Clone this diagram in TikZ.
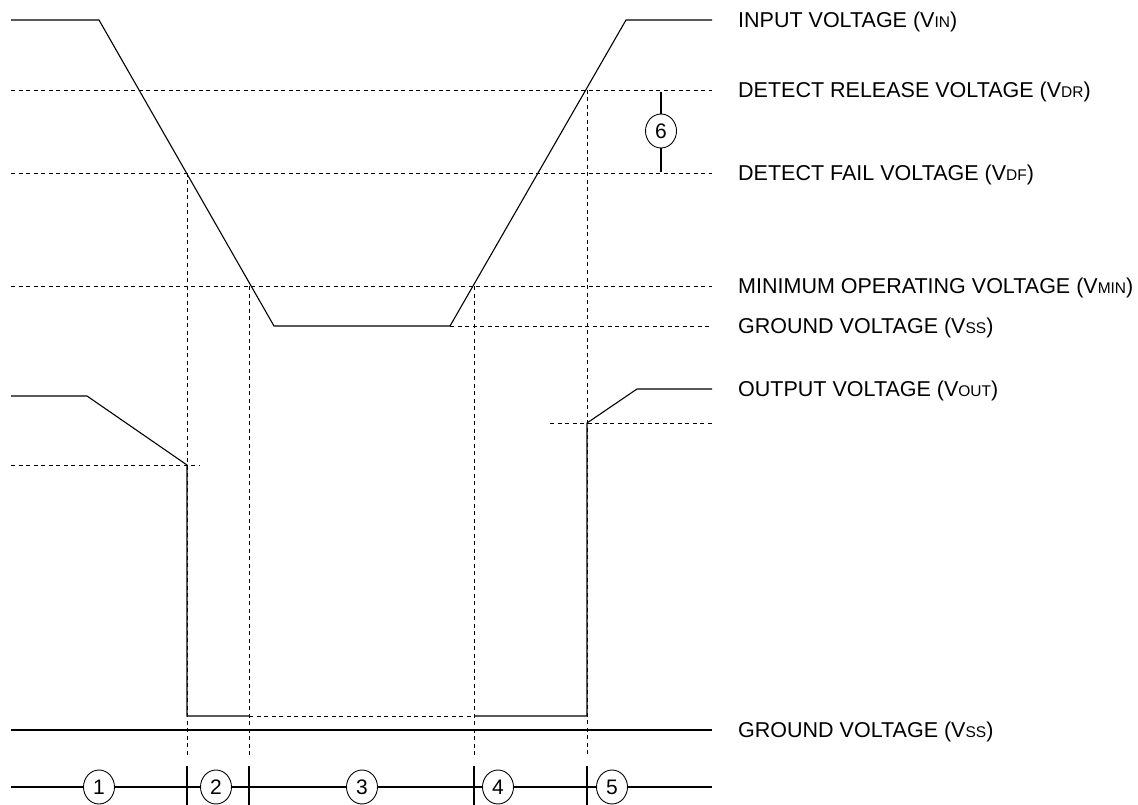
\documentclass[tikz,border=0pt]{standalone}
\usepackage{fontspec}
\setmainfont{Liberation Sans}
\usetikzlibrary{positioning}
\usetikzlibrary{shapes.geometric}
\newcommand{\vsub}[1]{{\fontsize{15.5pt}{15.5pt}\selectfont #1}}
\tikzset {
  % solid waveform
  wave/.style = {
    draw = black,
    line width = 1.1pt
  },
  % dashed guide lines
  guide/.style = {
    draw = black,
    line width = 0.9pt,
    dash pattern = on 4pt off 3.5pt
  },
  level label/.style = {
    inner sep = 0,
    yshift = -1.5pt,
    font = \fontsize{21.5pt}{21.5pt}\selectfont
  },
  % circled phase number
  phase/.style = {
    draw = black,
    ellipse,
    line width = 0.9pt,
    minimum width = 31pt,
    minimum height = 34pt,
    inner sep = 0,
    fill = white,
    font = \fontsize{21pt}{21pt}\selectfont
  },
  node distance = 26pt
}

\begin{document}
\begin{tikzpicture}[x=1pt, y=-1pt]
    \useasboundingbox (0,0) rectangle (1138,805);

    % input voltage
    \coordinate (in-start) at (11,20);
    \coordinate (in-fall) at (99,20);
    \coordinate (in-low-a) at (274,326);
    \coordinate (in-low-b) at (450,326);
    \coordinate (in-rise) at (626,20);
    \coordinate (in-end) at (712,20);
    % levels
    \coordinate (dr-start) at (11,90);
    \coordinate (dr-end) at (712,90);
    \coordinate (df-start) at (11,173);
    \coordinate (df-end) at (712,173);
    \coordinate (min-start) at (11,286);
    \coordinate (min-end) at (712,286);
    \coordinate (ss-end) at (712,326);
    % output voltage
    \coordinate (out-start) at (11,396);
    \coordinate (out-fall) at (87,396);
    \coordinate (out-drop) at (187,465);
    \coordinate (out-low-a) at (187,716);
    \coordinate (out-low-b) at (249,716);
    \coordinate (out-low-c) at (474,716);
    \coordinate (out-low-d) at (587,716);
    \coordinate (out-jump) at (587,423);
    \coordinate (out-rise) at (637,389);
    \coordinate (out-end) at (712,389);
    \coordinate (gnd-start) at (11,730);
    \coordinate (gnd-end) at (712,730);
    % time axis
    \coordinate (axis-start) at (11,787);
    \coordinate (axis-end) at (712,787);

    \draw[guide] (dr-start) -- (dr-end);
    \draw[guide] (df-start) -- (df-end);
    \draw[guide] (min-start) -- (min-end);
    \draw[guide] (in-low-b) -- (ss-end);
    \draw[guide] (11,465) -- (200,465);
    \draw[guide] (550,423) -- (712,423);
    \draw[guide] (out-low-b) -- (out-low-c);

    \draw[guide] (187,173) -- (187,757);
    \draw[guide] (249,286) -- (249,757);
    \draw[guide] (474,286) -- (474,757);
    \draw[guide] (587,90) -- (587,757);

    \draw[wave] (in-start)
    -- (in-fall)
    -- (in-low-a)
    -- (in-low-b)
    -- (in-rise)
    -- (in-end);

    \draw[wave] (out-start)
    -- (out-fall)
    -- (out-drop)
    -- (out-low-a)
    -- (out-low-b);

    \draw[wave] (out-low-c)
    -- (out-low-d)
    -- (out-jump)
    -- (out-rise)
    -- (out-end);

    \draw[wave] (gnd-start) -- (gnd-end);

    % hysteresis marker
    \node[phase] (p6) at (661,131) {6};
    \draw[wave] (661,92) -- (p6) -- (661,172);

    % phases
    \node[phase] (p1) at (99,787) {1};
    \node[phase] (p2) at (216,787) {2};
    \node[phase] (p3) at (362,787) {3};
    \node[phase] (p4) at (498,787) {4};
    \node[phase] (p5) at (612,787) {5};
    \draw[wave] (axis-start) -- (p1) -- (p2) -- (p3) -- (p4) -- (p5) -- (axis-end);
    \foreach \x in {187,249,474,587}
      \draw[wave] (\x,766) -- (\x,805);

    % labels
    \node[level label, right=of in-end] {INPUT VOLTAGE (V\vsub{IN})};
    \node[level label, right=of dr-end] {DETECT RELEASE VOLTAGE (V\vsub{DR})};
    \node[level label, right=of df-end] {DETECT FAIL VOLTAGE (V\vsub{DF})};
    \node[level label, right=of min-end] {MINIMUM OPERATING VOLTAGE (V\vsub{MIN})};
    \node[level label, right=of ss-end] {GROUND VOLTAGE (V\vsub{SS})};
    \node[level label, right=of out-end] {OUTPUT VOLTAGE (V\vsub{OUT})};
    \node[level label, right=of gnd-end] {GROUND VOLTAGE (V\vsub{SS})};
  \end{tikzpicture}
\end{document}
